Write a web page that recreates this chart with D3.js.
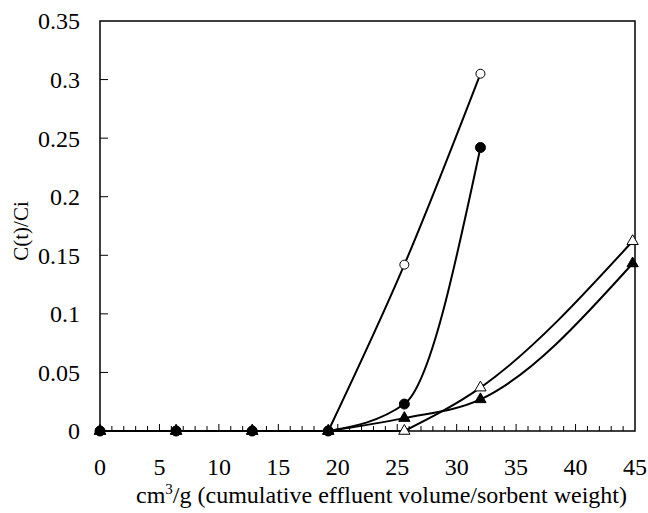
<!DOCTYPE html>
<html>
<head>
<meta charset="utf-8">
<title>Breakthrough curves</title>
<script src="https://d3js.org/d3.v7.min.js"></script>
<style>
  body {margin: 0; background: #fff;}
  svg text {font-family: "Liberation Serif", "Times New Roman", serif;}
</style>
</head>
<body>
<script>
// cumulative effluent volume / sorbent weight (cm3/g)
const volume = [0, 6.4, 12.8, 19.2, 25.6, 32, 44.8];

// C(t)/Ci for each run
const openCircle   = [0, 0, 0, 0, 0.142, 0.305];
const filledCircle = [0, 0, 0, 0, 0.023, 0.242];
const openTri      = [0, 0, 0, 0, 0, 0.037, 0.162];
const filledTri    = [0, 0, 0, 0, 0.011, 0.027, 0.143];

const xTicks = [0, 5, 10, 15, 20, 25, 30, 35, 40, 45];
const yTicks = [0, 0.05, 0.1, 0.15, 0.2, 0.25, 0.3, 0.35];

const width = 648, height = 513;
const margin = {left: 100, right: 13, top: 21, bottom: 82};

const svg = d3.select('body').append('svg')
  .attr('width', width)
  .attr('height', height);

const x = d3.scaleLinear().domain([0, 45]).range([margin.left, width - margin.right]);
const y = d3.scaleLinear().domain([0, 0.35]).range([height - margin.bottom, margin.top]);

const flat = d3.line().x(d => x(d[0])).y(d => y(d[1]));
const smooth = d3.line().x(d => x(d[0])).y(d => y(d[1]))
  .curve(d3.curveMonotoneX);

const series = [
  {vals: openCircle, shape: 'circle', fill: '#fff'},
  {vals: openTri, shape: 'tri', fill: '#fff'},
  {vals: filledTri, shape: 'tri', fill: '#000'},
  {vals: filledCircle, shape: 'circle', fill: '#000'}
];

// minor ticks on x axis, pointing inward
const minor = d3.range(1, 45);
svg.append('g').selectAll('line')
  .data(minor)
  .join('line')
  .attr('x1', d => x(d)).attr('x2', d => x(d))
  .attr('y1', y(0)).attr('y2', d => y(0) - (d % 5 === 0 ? 7 : 5))
  .attr('stroke', '#000').attr('stroke-width', 1);

// y axis ticks inward
svg.append('g').selectAll('line')
  .data(yTicks.slice(1, -1))
  .join('line')
  .attr('x1', x(0)).attr('x2', x(0) + 8)
  .attr('y1', d => y(d)).attr('y2', d => y(d))
  .attr('stroke', '#000').attr('stroke-width', 1);

// frame
svg.append('rect')
  .attr('x', x(0)).attr('y', y(0.35))
  .attr('width', x(45) - x(0)).attr('height', y(0) - y(0.35))
  .attr('fill', 'none').attr('stroke', '#000').attr('stroke-width', 1.5);

// tick labels
svg.append('g').selectAll('text')
  .data(yTicks)
  .join('text')
  .attr('x', x(0) - 20)
  .attr('y', d => y(d))
  .attr('dy', '0.35em')
  .attr('text-anchor', 'end')
  .attr('font-size', 24)
  .text(d => d);

svg.append('g').selectAll('text')
  .data(xTicks)
  .join('text')
  .attr('x', d => x(d))
  .attr('y', y(0) + 44)
  .attr('text-anchor', 'middle')
  .attr('font-size', 24)
  .text(d => d);

// curves: flat run of zeros drawn straight, breakthrough part smoothed
series.forEach(s => {
  const pts = s.vals.map((v, i) => [volume[i], v]);
  let k = 0;
  while (k + 1 < pts.length && pts[k + 1][1] === 0) k++;
  svg.append('path')
    .attr('d', flat(pts.slice(0, k + 1)))
    .attr('fill', 'none').attr('stroke', '#000').attr('stroke-width', 2);
  svg.append('path')
    .attr('d', smooth(pts.slice(k)))
    .attr('fill', 'none').attr('stroke', '#000').attr('stroke-width', 2);
});

// markers
series.forEach(s => {
  const pts = s.vals.map((v, i) => [volume[i], v]);
  const g = svg.append('g');
  if (s.shape === 'circle') {
    g.selectAll('circle').data(pts).join('circle')
      .attr('cx', d => x(d[0])).attr('cy', d => y(d[1]))
      .attr('r', s.fill === '#000' ? 5 : 4.5)
      .attr('fill', s.fill).attr('stroke', '#000').attr('stroke-width', 1);
  } else {
    g.selectAll('path').data(pts).join('path')
      .attr('transform', d => `translate(${x(d[0])},${y(d[1])})`)
      .attr('d', d3.symbol(d3.symbolTriangle, 55))
      .attr('fill', s.fill).attr('stroke', '#000').attr('stroke-width', 1);
  }
});

// axis titles
const xt = svg.append('text')
  .attr('x', (x(0) + x(45)) / 2 + 14)
  .attr('y', height - 10)
  .attr('text-anchor', 'middle')
  .attr('font-size', 24);
xt.append('tspan').text('cm');
xt.append('tspan').attr('font-size', 15).attr('dy', -9).text('3');
xt.append('tspan').attr('dy', 9).text('/g (cumulative effluent volume/sorbent weight)');

svg.append('text')
  .attr('transform', `translate(28, ${y(0.175) + 5}) rotate(-90)`)
  .attr('text-anchor', 'middle')
  .attr('font-size', 21)
  .text('C(t)/Ci');
</script>
</body>
</html>
